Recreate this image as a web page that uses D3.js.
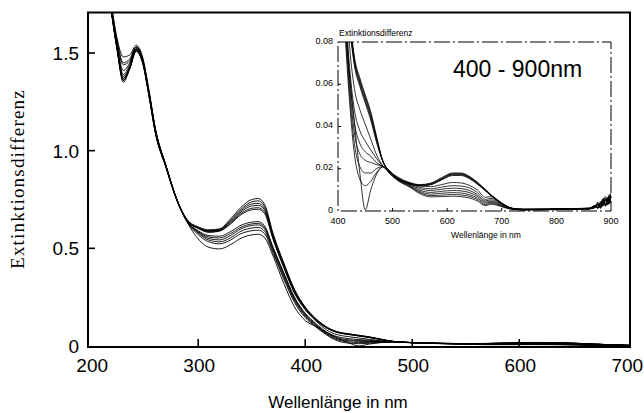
<!DOCTYPE html>
<html><head><meta charset="utf-8">
<script src="https://cdn.jsdelivr.net/npm/d3@7"></script>
<style>body{margin:0;background:#fff}svg{display:block}</style>
</head><body>
<svg id="c" width="644" height="413"></svg>
<script>
// wavelengths (nm)
const wavelengths = [212,218,224,230,236,242,248,254,260,270,280,290,300,310,320,330,340,350,356,362,370,380,390,400,410,420,430,440,450,460,470,483,495,510,530,550,570,590,610,625,640,655,670,680,690,705,720,740,780,820,860,870,876,881,886,890,894,897,900];

// Extinktionsdifferenz per spectrum
const spec01 = [2.0,1.75,1.53,1.36,1.42,1.52,1.46,1.29,1.10,0.92,0.75,0.645,0.61,0.595,0.60,0.65,0.71,0.75,0.755,0.725,0.575,0.425,0.29,0.2,0.14,0.098,0.073,0.063,0.055,0.047,0.036,0.023,0.019,0.0155,0.0135,0.0125,0.0132,0.0158,0.0180,0.0180,0.0165,0.0137,0.0102,0.0078,0.0057,0.0029,0.0013,0.0009,0.0009,0.0011,0.0014,0.0022,0.0018,0.0045,0.0025,0.0052,0.003,0.0068,0.0075];
const spec02 = [2.0,1.75,1.53,1.37,1.43,1.52,1.46,1.29,1.10,0.92,0.75,0.643,0.607,0.591,0.597,0.643,0.70,0.738,0.743,0.715,0.568,0.42,0.285,0.197,0.138,0.096,0.072,0.062,0.054,0.046,0.035,0.023,0.0188,0.0153,0.0133,0.0123,0.013,0.0155,0.0177,0.0177,0.0162,0.0134,0.01,0.0076,0.0055,0.0028,0.0012,0.0008,0.0008,0.001,0.0013,0.0016,0.0035,0.0022,0.0058,0.0028,0.0065,0.0035,0.0082];
const spec03 = [2.0,1.74,1.52,1.35,1.42,1.51,1.45,1.28,1.09,0.915,0.748,0.642,0.605,0.589,0.595,0.638,0.693,0.727,0.73,0.705,0.562,0.415,0.282,0.195,0.136,0.094,0.071,0.061,0.053,0.045,0.035,0.023,0.0187,0.0152,0.0131,0.0121,0.0128,0.0152,0.0174,0.0174,0.016,0.0132,0.0099,0.0075,0.0054,0.0027,0.0012,0.0008,0.0009,0.0011,0.0012,0.0025,0.0015,0.0038,0.006,0.0032,0.0055,0.0078,0.0062];
const spec04 = [2.0,1.76,1.54,1.39,1.44,1.52,1.46,1.29,1.10,0.918,0.748,0.641,0.604,0.587,0.593,0.634,0.686,0.717,0.72,0.697,0.556,0.41,0.278,0.192,0.134,0.093,0.07,0.06,0.052,0.044,0.034,0.023,0.0186,0.0151,0.013,0.012,0.0126,0.015,0.0171,0.0171,0.0157,0.013,0.0097,0.0074,0.0053,0.0027,0.0011,0.0007,0.0008,0.001,0.0013,0.0019,0.0042,0.002,0.0048,0.0068,0.0038,0.0072,0.0055];
const spec05 = [2.0,1.76,1.55,1.41,1.45,1.53,1.47,1.30,1.11,0.92,0.75,0.640,0.603,0.584,0.59,0.628,0.678,0.705,0.708,0.686,0.55,0.405,0.274,0.19,0.132,0.092,0.069,0.059,0.051,0.043,0.033,0.023,0.0185,0.015,0.0129,0.0118,0.0124,0.0147,0.0168,0.0168,0.0154,0.0127,0.0095,0.0072,0.0052,0.0026,0.0011,0.0007,0.0008,0.001,0.0012,0.0024,0.0016,0.0036,0.0052,0.0026,0.0061,0.0045,0.0085];
const spec06 = [2.0,1.75,1.53,1.36,1.42,1.51,1.45,1.28,1.09,0.915,0.746,0.64,0.602,0.582,0.588,0.624,0.672,0.697,0.70,0.678,0.545,0.40,0.27,0.185,0.128,0.082,0.058,0.048,0.041,0.034,0.027,0.021,0.0185,0.016,0.0135,0.012,0.0115,0.0125,0.0135,0.0133,0.0122,0.010,0.0065,0.0068,0.0055,0.003,0.0012,0.0008,0.0008,0.001,0.0012,0.0018,0.0032,0.0022,0.0045,0.003,0.006,0.004,0.0068];
const spec07 = [2.0,1.77,1.56,1.44,1.46,1.53,1.47,1.30,1.11,0.92,0.75,0.638,0.59,0.565,0.562,0.585,0.618,0.634,0.637,0.615,0.505,0.375,0.25,0.168,0.115,0.072,0.048,0.038,0.033,0.029,0.025,0.021,0.0183,0.0155,0.013,0.0112,0.0105,0.0113,0.012,0.0118,0.011,0.0088,0.0055,0.006,0.005,0.0027,0.001,0.0007,0.0008,0.001,0.0011,0.0022,0.0014,0.004,0.0025,0.0055,0.0035,0.0072,0.005];
const spec08 = [2.0,1.75,1.53,1.37,1.43,1.52,1.46,1.29,1.10,0.915,0.748,0.636,0.586,0.558,0.553,0.575,0.608,0.625,0.628,0.607,0.50,0.37,0.245,0.163,0.11,0.068,0.042,0.032,0.028,0.026,0.023,0.021,0.0182,0.0153,0.0127,0.0105,0.0097,0.0103,0.0108,0.0106,0.0098,0.0078,0.0048,0.0053,0.0045,0.0025,0.001,0.0007,0.0007,0.0009,0.0011,0.0015,0.0028,0.0018,0.0035,0.0062,0.0028,0.0058,0.0072];
const spec09 = [2.0,1.77,1.57,1.45,1.47,1.53,1.47,1.30,1.11,0.92,0.75,0.635,0.582,0.55,0.543,0.565,0.60,0.617,0.62,0.60,0.495,0.362,0.24,0.158,0.106,0.064,0.037,0.027,0.024,0.023,0.022,0.021,0.018,0.015,0.0124,0.0098,0.0088,0.0093,0.0097,0.0095,0.0088,0.007,0.0042,0.0047,0.004,0.0022,0.0009,0.0006,0.0007,0.0009,0.001,0.0024,0.0013,0.0033,0.0048,0.0024,0.0066,0.0038,0.006];
const spec10 = [2.0,1.75,1.53,1.38,1.43,1.52,1.46,1.29,1.10,0.915,0.748,0.634,0.578,0.542,0.533,0.553,0.588,0.604,0.607,0.588,0.485,0.352,0.232,0.152,0.102,0.06,0.032,0.021,0.018,0.018,0.02,0.021,0.0178,0.0148,0.0121,0.0092,0.008,0.0084,0.0087,0.0085,0.0078,0.0062,0.0036,0.0042,0.0036,0.002,0.0009,0.0006,0.0007,0.0009,0.001,0.0019,0.0035,0.0016,0.0042,0.003,0.0052,0.0068,0.0045];
const spec11 = [2.0,1.78,1.58,1.48,1.49,1.54,1.48,1.31,1.11,0.92,0.75,0.632,0.57,0.533,0.523,0.542,0.575,0.59,0.593,0.575,0.475,0.342,0.223,0.145,0.097,0.056,0.027,0.015,0.012,0.014,0.018,0.021,0.0177,0.0145,0.0118,0.0087,0.0073,0.0075,0.0078,0.0076,0.007,0.0055,0.003,0.0037,0.0032,0.0018,0.0008,0.0005,0.0006,0.0008,0.001,0.0016,0.0024,0.0012,0.0038,0.0055,0.0032,0.0048,0.0078];
const spec12 = [2.0,1.75,1.53,1.36,1.42,1.51,1.45,1.28,1.09,0.91,0.745,0.63,0.548,0.505,0.497,0.518,0.552,0.569,0.572,0.555,0.46,0.32,0.20,0.13,0.10,0.068,0.042,0.018,0.0005,0.010,0.017,0.021,0.0176,0.0143,0.0115,0.0082,0.0067,0.0068,0.007,0.0068,0.0062,0.0048,0.0025,0.0032,0.0028,0.0016,0.0008,0.0005,0.0006,0.0008,0.0009,0.0021,0.0013,0.0028,0.0045,0.0022,0.0058,0.0034,0.0065];
const spectra = [spec01,spec02,spec03,spec04,spec05,spec06,spec07,spec08,spec09,spec10,spec11,spec12];

// ticks
const mainXTicks = [200,300,400,500,600,700];
const mainYTicks = [0,0.5,1.0,1.5];
const mainYLabels = ["0","0.5","1.0","1.5"];
const insetXTicks = [400,500,600,700,800,900];
const insetYTicks = [0,0.02,0.04,0.06,0.08];
const insetYLabels = ["0","0.02","0.04","0.06","0.08"];

const svg = d3.select("#c");
const SANS = "'Liberation Sans', Arial, Helvetica, sans-serif";
const SERIF = "'Liberation Serif', 'Times New Roman', serif";

// ---- main chart ----
const L=88, R=630, T=12.5, B=347;
const x = d3.scaleLinear().domain([197, 703.5]).range([L, R]);
const y = d3.scaleLinear().domain([0, 1.5]).range([346, 53]);

const defs = svg.append("defs");
defs.append("clipPath").attr("id","mclip").append("rect")
  .attr("x",L).attr("y",T).attr("width",R-L).attr("height",B-T);

const mainLine = d3.line().x(d=>x(d[0])).y(d=>y(d[1])).curve(d3.curveMonotoneX);
const gm = svg.append("g").attr("clip-path","url(#mclip)");
spectra.forEach(s=>{
  const pts = wavelengths.map((w,i)=>[w,s[i]]).filter(p=>p[0]<=720);
  gm.append("path").attr("d",mainLine(pts)).attr("fill","none")
    .attr("stroke","#000").attr("stroke-width",0.9);
});

// frame
svg.append("rect").attr("x",L).attr("y",T).attr("width",R-L).attr("height",B-T)
  .attr("fill","none").attr("stroke","#000").attr("stroke-width",2);

// ticks
mainXTicks.filter(t=>t>200&&t<700).forEach(t=>{
  svg.append("line").attr("x1",x(t)).attr("x2",x(t)).attr("y1",B).attr("y2",B-8)
    .attr("stroke","#000").attr("stroke-width",1.6);
});
mainYTicks.filter(t=>t>0).forEach(t=>{
  svg.append("line").attr("x1",L).attr("x2",L+7).attr("y1",y(t)).attr("y2",y(t))
    .attr("stroke","#000").attr("stroke-width",1.6);
});
mainXTicks.forEach(t=>{
  svg.append("text").attr("x",x(t)+1).attr("y",372).attr("text-anchor","middle")
    .attr("font-family",SANS).attr("font-size",19).text(t);
});
mainYTicks.forEach((t,i)=>{
  svg.append("text").attr("x",79).attr("y",y(t)).attr("dy","0.36em").attr("text-anchor","end")
    .attr("font-family",SANS).attr("font-size",19).text(mainYLabels[i]);
});
svg.append("text").attr("x",338).attr("y",408).attr("text-anchor","middle")
  .attr("font-family",SANS).attr("font-size",17).text("Wellenlänge in nm");
svg.append("text").attr("transform","translate(24,179) rotate(-90)").attr("text-anchor","middle")
  .attr("font-family",SERIF).attr("font-size",19).attr("letter-spacing","1.2px").text("Extinktionsdifferenz");

// ---- inset ----
const iL=338, iR=611, iT=42, iB=211;
const xi = d3.scaleLinear().domain([400,900]).range([iL,iR]);
const yi = d3.scaleLinear().domain([0,0.08]).range([iB,iT]);
defs.append("clipPath").attr("id","iclip").append("rect")
  .attr("x",iL).attr("y",iT).attr("width",iR-iL).attr("height",iB-iT);
svg.append("rect").attr("x",iL).attr("y",iT).attr("width",iR-iL).attr("height",iB-iT).attr("fill","#fff");
const insetLine = d3.line().x(d=>xi(d[0])).y(d=>yi(d[1])).curve(d3.curveMonotoneX);
const gi = svg.append("g").attr("clip-path","url(#iclip)");
spectra.forEach(s=>{
  const pts = wavelengths.map((w,i)=>[w,s[i]]).filter(p=>p[0]>=390);
  gi.append("path").attr("d",insetLine(pts)).attr("fill","none")
    .attr("stroke","#000").attr("stroke-width",0.8);
});
svg.append("rect").attr("x",iL).attr("y",iT).attr("width",iR-iL).attr("height",iB-iT)
  .attr("fill","none").attr("stroke","#000").attr("stroke-width",1).attr("stroke-dasharray","16,3,2,3");
insetXTicks.filter(t=>t>400&&t<900).forEach(t=>{
  svg.append("line").attr("x1",xi(t)).attr("x2",xi(t)).attr("y1",iB).attr("y2",iB-3)
    .attr("stroke","#000").attr("stroke-width",1);
});
insetYTicks.filter(t=>t>0&&t<0.08).forEach(t=>{
  svg.append("line").attr("x1",iL).attr("x2",iL+3).attr("y1",yi(t)).attr("y2",yi(t))
    .attr("stroke","#000").attr("stroke-width",1);
});
insetXTicks.forEach(t=>{
  svg.append("text").attr("x",xi(t)).attr("y",224).attr("text-anchor","middle")
    .attr("font-family",SANS).attr("font-size",9).text(t);
});
insetYTicks.forEach((t,i)=>{
  svg.append("text").attr("x",333).attr("y",yi(t)-1).attr("dy","0.3em").attr("text-anchor","end")
    .attr("font-family",SANS).attr("font-size",9).text(insetYLabels[i]);
});
svg.append("text").attr("x",486).attr("y",238).attr("text-anchor","middle")
  .attr("font-family",SANS).attr("font-size",8.5).text("Wellenlänge in nm");
svg.append("text").attr("x",339).attr("y",36)
  .attr("font-family",SANS).attr("font-size",8.5).text("Extinktionsdifferenz");
svg.append("text").attr("x",453).attr("y",77)
  .attr("font-family",SANS).attr("font-size",23).text("400 - 900nm");
</script>
</body></html>
